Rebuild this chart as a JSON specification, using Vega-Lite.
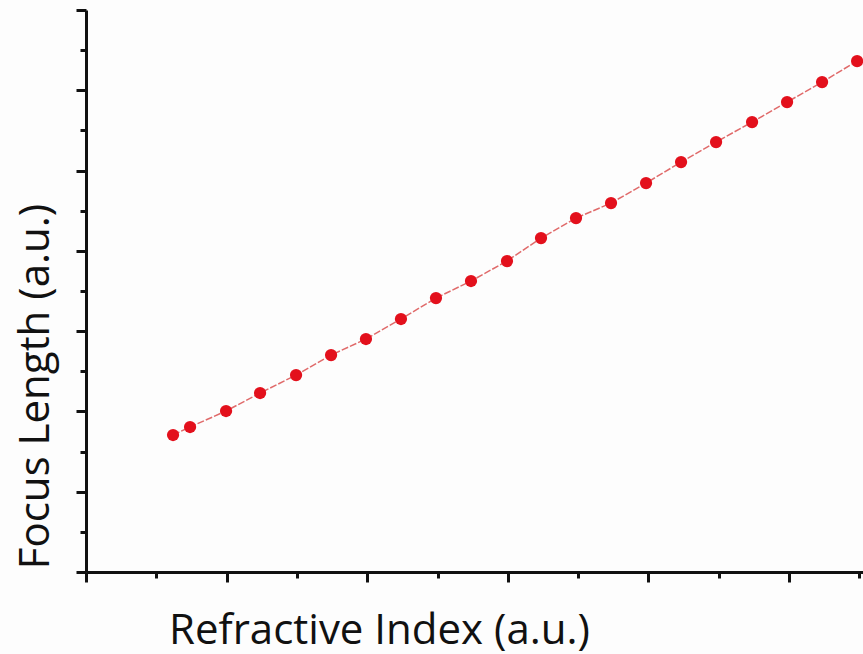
{
  "$schema": "https://vega.github.io/schema/vega-lite/v6.json",
  "autosize": "none",
  "width": 777,
  "height": 562,
  "padding": {"left": 86, "top": 10, "right": 0, "bottom": 82},
  "background": "#fdfdfd",
  "config": {"view": {"stroke": null}},
  "data": {"values": [
    {"ri": 0.619, "fl": 1.706},
    {"ri": 0.740, "fl": 1.806},
    {"ri": 0.996, "fl": 2.005},
    {"ri": 1.238, "fl": 2.229},
    {"ri": 1.494, "fl": 2.453},
    {"ri": 1.743, "fl": 2.702},
    {"ri": 1.991, "fl": 2.902},
    {"ri": 2.240, "fl": 3.151},
    {"ri": 2.489, "fl": 3.412},
    {"ri": 2.738, "fl": 3.624},
    {"ri": 2.994, "fl": 3.873},
    {"ri": 3.236, "fl": 4.159},
    {"ri": 3.485, "fl": 4.408},
    {"ri": 3.734, "fl": 4.595},
    {"ri": 3.983, "fl": 4.844},
    {"ri": 4.232, "fl": 5.106},
    {"ri": 4.481, "fl": 5.355},
    {"ri": 4.737, "fl": 5.604},
    {"ri": 4.986, "fl": 5.853},
    {"ri": 5.235, "fl": 6.102},
    {"ri": 5.484, "fl": 6.364}
  ]},
  "layer": [
    {
      "mark": {"type": "line", "color": "#e06a6a", "strokeWidth": 1.5, "strokeDash": [7, 2]},
      "encoding": {
        "x": {"field": "ri", "type": "quantitative", "scale": {"domain": [0, 5.526], "nice": false},
          "axis": {"orient": "bottom", "values": [0, 1, 2, 3, 4, 5], "labels": false, "grid": false,
            "domainColor": "#111", "domainWidth": 3, "tickColor": "#111", "tickWidth": 3, "tickSize": 10,
            "title": "Refractive Index (a.u.)", "titleFont": "Open Sans", "titleFontSize": 42, "titleFontWeight": "normal",
            "titleColor": "#111", "titleX": 293, "titleY": 71, "titleBaseline": "alphabetic", "titleAlign": "center"}},
        "y": {"field": "fl", "type": "quantitative", "scale": {"domain": [0, 7], "nice": false},
          "axis": {"orient": "left", "values": [0, 1, 2, 3, 4, 5, 6, 7], "labels": false, "grid": false,
            "domainColor": "#111", "domainWidth": 3, "tickColor": "#111", "tickWidth": 3, "tickSize": 10,
            "title": "Focus Length (a.u.)", "titleFont": "Open Sans", "titleFontSize": 42, "titleFontWeight": "normal",
            "titleColor": "#111", "titleX": -38, "titleY": 376, "titleAngle": -90, "titleBaseline": "alphabetic", "titleAlign": "center"}}
      }
    },
    {
      "mark": {"type": "circle", "color": "#e3101c", "opacity": 1, "size": 150},
      "encoding": {
        "x": {"field": "ri", "type": "quantitative",
          "axis": {"orient": "bottom", "values": [0.5, 1.5, 2.5, 3.5, 4.5, 5.5], "labels": false, "grid": false,
            "domain": false, "tickColor": "#111", "tickWidth": 3, "tickSize": 6, "title": null}},
        "y": {"field": "fl", "type": "quantitative",
          "axis": {"orient": "left", "values": [0.5, 1.5, 2.5, 3.5, 4.5, 5.5, 6.5], "labels": false, "grid": false,
            "domain": false, "tickColor": "#111", "tickWidth": 3, "tickSize": 6, "title": null}}
      }
    }
  ],
  "resolve": {"axis": {"x": "independent", "y": "independent"}}
}
